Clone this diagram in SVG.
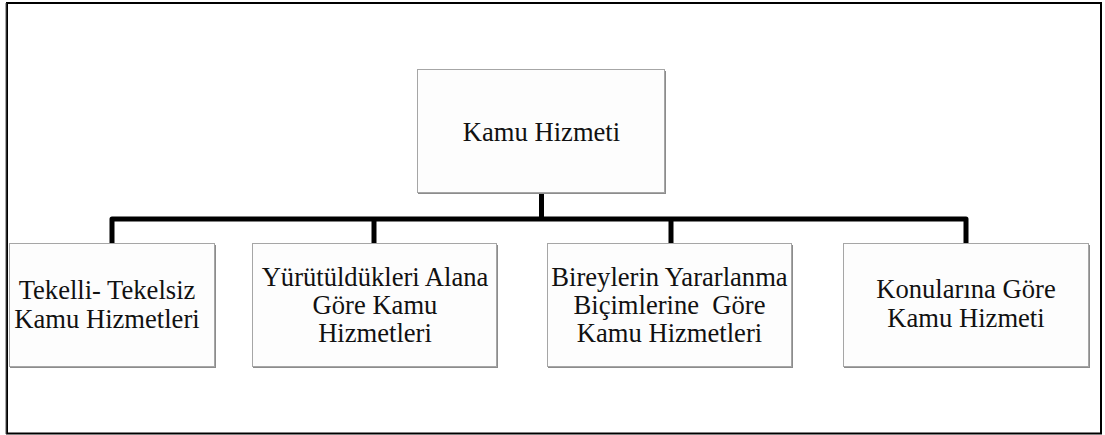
<svg xmlns="http://www.w3.org/2000/svg" width="1105" height="435" viewBox="0 0 1105 435">
  <style>
    .shadow { fill: #8c8c8c; }
    .box { fill: #fdfdfd; stroke: #a6a6a6; stroke-width: 1; }
    .lbl { font-family: "Liberation Serif", "Times New Roman", serif; font-size: 26.6px; fill: #111; text-anchor: middle; }
    .conn { fill: none; stroke: #000; stroke-width: 5; stroke-linejoin: round; }
  </style>
  <rect width="1105" height="435" fill="#ffffff"/>
  <rect x="7" y="3" width="1094" height="430.5" fill="none" stroke="#000" stroke-width="2"/>
  <line x1="6" y1="3" x2="6" y2="434" stroke="#555" stroke-width="1"/>

  <g id="connectors">
    <path class="conn" d="M541.5,193 V219"/>
    <path class="conn" d="M112,244 V219 H966 V244"/>
    <path class="conn" d="M374,219 V244"/>
    <path class="conn" d="M671,219 V244"/>
  </g>

  <g id="node-root">
    <rect class="shadow" x="418" y="71" width="248" height="123"/>
    <rect class="box" x="417.5" y="69.5" width="247" height="123"/>
    <text class="lbl" x="541.5" y="141">Kamu Hizmeti</text>
  </g>

  <g id="node-tekelli">
    <rect class="shadow" x="10" y="245" width="206" height="123"/>
    <rect class="box" x="9.5" y="243.5" width="205" height="123"/>
    <text class="lbl" x="107" y="299">Tekelli- Tekelsiz</text>
    <text class="lbl" x="107" y="327.5">Kamu Hizmetleri</text>
  </g>

  <g id="node-yurutuldukleri">
    <rect class="shadow" x="253" y="245" width="245" height="123"/>
    <rect class="box" x="252.5" y="243.5" width="244" height="123"/>
    <text class="lbl" x="375" y="286">Yürütüldükleri Alana</text>
    <text class="lbl" x="375" y="314">Göre Kamu</text>
    <text class="lbl" x="375" y="342">Hizmetleri</text>
  </g>

  <g id="node-bireylerin">
    <rect class="shadow" x="548" y="245" width="245" height="123"/>
    <rect class="box" x="547.5" y="243.5" width="244" height="123"/>
    <text class="lbl" x="669.5" y="286">Bireylerin Yararlanma</text>
    <text class="lbl" x="669.5" y="314" xml:space="preserve">Biçimlerine  Göre</text>
    <text class="lbl" x="669.5" y="342">Kamu Hizmetleri</text>
  </g>

  <g id="node-konularina">
    <rect class="shadow" x="844" y="245" width="246" height="123"/>
    <rect class="box" x="843.5" y="243.5" width="245" height="123"/>
    <text class="lbl" x="966" y="298">Konularına Göre</text>
    <text class="lbl" x="966" y="327">Kamu Hizmeti</text>
  </g>
</svg>
